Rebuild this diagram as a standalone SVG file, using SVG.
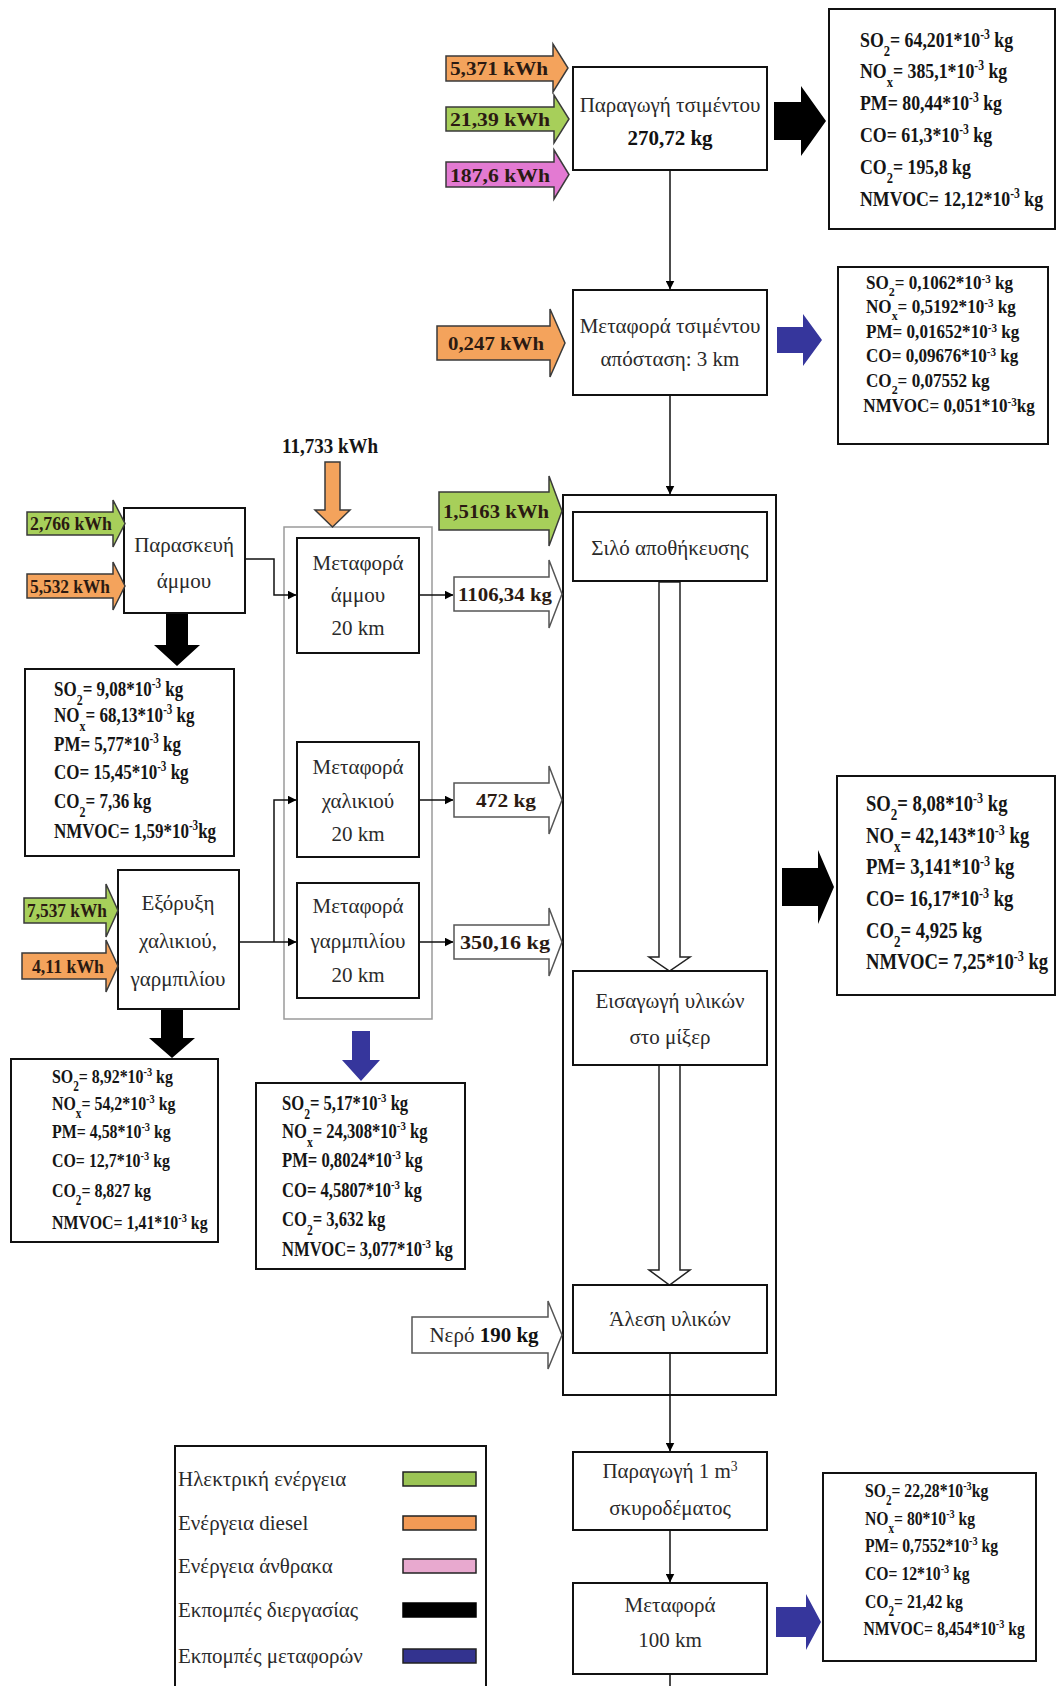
<svg xmlns="http://www.w3.org/2000/svg" width="1057" height="1686" viewBox="0 0 1057 1686">
<defs>
<marker id="ah" markerWidth="9" markerHeight="9" refX="8.5" refY="4.5" orient="auto" markerUnits="userSpaceOnUse"><path d="M0,0 L9,4.5 L0,9 Z" fill="#000"/></marker>
<style>
.bx{fill:#fff;stroke:#111;stroke-width:2}
.gbx{fill:none;stroke:#9a9a9a;stroke-width:1.5}
.lb{font-family:"Liberation Serif",serif;font-size:21px;fill:#2a2a2a;text-anchor:middle}
.b{font-weight:bold;fill:#111}
.em{font-family:"Liberation Serif",serif;font-weight:bold;fill:#151515}
.al{font-family:"Liberation Serif",serif;font-weight:bold;font-size:19px;fill:#2b1a12;text-anchor:middle}
.sb{font-size:70%;baseline-shift:sub}
.sp{font-size:65%;baseline-shift:super}
.el{fill:#a7cf5a;stroke:#3a3a3a;stroke-width:1.5}
.di{fill:#f4a35c;stroke:#3a3a3a;stroke-width:1.5}
.ca{fill:#e37ad2;stroke:#3a3a3a;stroke-width:1.5}
.pe{fill:#000}
.tr{fill:#36369c}
.op{fill:#fff;stroke:#555;stroke-width:1.5}
.hol{fill:#fff;stroke:#222;stroke-width:1.5}
.cn{fill:none;stroke:#111;stroke-width:1.5}
.lg{font-family:"Liberation Serif",serif;font-size:21px;fill:#2a2a2a}
</style>
</defs>
<rect x="0" y="0" width="1057" height="1686" fill="#fff"/>

<!-- group frames -->
<rect id="silo-group" class="bx" x="563" y="495" width="213" height="900"/>
<rect id="transport-group" class="gbx" x="284" y="527" width="148" height="492"/>

<!-- connectors -->
<g id="connectors">
<path class="cn" d="M670,170 V289" marker-end="url(#ah)"/>
<path class="cn" d="M670,395 V494" marker-end="url(#ah)"/>
<path class="cn" d="M245,559 H274 V595 H296" marker-end="url(#ah)"/>
<path class="cn" d="M419,595 H453" marker-end="url(#ah)"/>
<path class="cn" d="M239,942 H296" marker-end="url(#ah)"/>
<path class="cn" d="M274,942 V800 H296" marker-end="url(#ah)"/>
<path class="cn" d="M419,800 H453" marker-end="url(#ah)"/>
<path class="cn" d="M419,942 H453" marker-end="url(#ah)"/>
<path class="cn" d="M670,1353 V1451" marker-end="url(#ah)"/>
<path class="cn" d="M670,1530 V1582" marker-end="url(#ah)"/>
<path class="cn" d="M670,1674 V1686"/>
<path class="hol" d="M659,582 V957 H649 L669.5,971 L690,957 H680 V582 Z"/>
<path class="hol" d="M659,1065 V1270 H649 L669.5,1285 L690,1270 H680 V1065 Z"/>
</g>

<!-- process nodes -->
<g id="cement-production">
<rect class="bx" x="573" y="67" width="194" height="103"/>
<text class="lb" x="670" y="112">Παραγωγή τσιμέντου</text>
<text class="lb b" x="670" y="145">270,72 kg</text>
</g>
<g id="cement-transport">
<rect class="bx" x="573" y="290" width="194" height="105"/>
<text class="lb" x="670" y="333">Μεταφορά τσιμέντου</text>
<text class="lb" x="670" y="366">απόσταση: 3 km</text>
</g>
<g id="silo">
<rect class="bx" x="573" y="512" width="194" height="69"/>
<text class="lb" x="670" y="555">Σιλό αποθήκευσης</text>
</g>
<g id="mixer-input">
<rect class="bx" x="573" y="971" width="194" height="94"/>
<text class="lb" x="670" y="1008">Εισαγωγή υλικών</text>
<text class="lb" x="670" y="1044">στο μίξερ</text>
</g>
<g id="grinding">
<rect class="bx" x="573" y="1285" width="194" height="68"/>
<text class="lb" x="670" y="1326">Άλεση υλικών</text>
</g>
<g id="concrete-production">
<rect class="bx" x="573" y="1452" width="194" height="78"/>
<text class="lb" x="670" y="1478">Παραγωγή 1 m<tspan class="sp">3</tspan></text>
<text class="lb" x="670" y="1515">σκυροδέματος</text>
</g>
<g id="transport-100">
<rect class="bx" x="573" y="1583" width="194" height="91"/>
<text class="lb" x="670" y="1612">Μεταφορά</text>
<text class="lb" x="670" y="1647">100 km</text>
</g>
<g id="sand-prep">
<rect class="bx" x="124" y="508" width="121" height="105"/>
<text class="lb" x="184" y="552">Παρασκευή</text>
<text class="lb" x="184" y="588">άμμου</text>
</g>
<g id="sand-transport">
<rect class="bx" x="297" y="538" width="122" height="115"/>
<text class="lb" x="358" y="570">Μεταφορά</text>
<text class="lb" x="358" y="602">άμμου</text>
<text class="lb" x="358" y="635">20 km</text>
</g>
<g id="gravel-transport">
<rect class="bx" x="297" y="742" width="122" height="115"/>
<text class="lb" x="358" y="774">Μεταφορά</text>
<text class="lb" x="358" y="808">χαλικιού</text>
<text class="lb" x="358" y="841">20 km</text>
</g>
<g id="grit-transport">
<rect class="bx" x="297" y="883" width="122" height="115"/>
<text class="lb" x="358" y="913">Μεταφορά</text>
<text class="lb" x="358" y="948">γαρμπιλίου</text>
<text class="lb" x="358" y="982">20 km</text>
</g>
<g id="mining">
<rect class="bx" x="118" y="870" width="121" height="139"/>
<text class="lb" x="178" y="910">Εξόρυξη</text>
<text class="lb" x="178" y="948">χαλικιού,</text>
<text class="lb" x="178" y="986">γαρμπιλίου</text>
</g>

<!-- energy inputs -->
<g id="in-cement-diesel"><path class="di" d="M446,56 H553 V44 L568,68 L553,92 V81 H446 Z"/><text class="al" x="499" y="75" textLength="98" lengthAdjust="spacingAndGlyphs">5,371 kWh</text></g>
<g id="in-cement-elec"><path class="el" d="M446,107 H554 V95 L569,119 L554,143 V131 H446 Z"/><text class="al" x="500" y="126" textLength="100" lengthAdjust="spacingAndGlyphs">21,39 kWh</text></g>
<g id="in-cement-coal"><path class="ca" d="M446,162 H554 V150 L569,174.5 L554,199 V187 H446 Z"/><text class="al" x="500" y="182" textLength="100" lengthAdjust="spacingAndGlyphs">187,6 kWh</text></g>
<g id="in-transport-diesel"><path class="di" d="M437,326 H550 V309 L565,343 L550,377 V360 H437 Z"/><text class="al" x="496" y="350" textLength="96" lengthAdjust="spacingAndGlyphs">0,247 kWh</text></g>
<g id="in-silo-elec"><path class="el" d="M439,492 H549 V476 L562,511 L549,546 V530 H439 Z"/><text class="al" x="496" y="518" textLength="106" lengthAdjust="spacingAndGlyphs">1,5163 kWh</text></g>
<g id="in-sand-elec"><path class="el" d="M27,512 H113 V500 L125,523.5 L113,547 V535 H27 Z"/><text class="al" x="71" y="530" textLength="82" lengthAdjust="spacingAndGlyphs">2,766 kWh</text></g>
<g id="in-sand-diesel"><path class="di" d="M27,574 H113 V562 L125,586 L113,610 V598 H27 Z"/><text class="al" x="70" y="593" textLength="80" lengthAdjust="spacingAndGlyphs">5,532 kWh</text></g>
<g id="in-mining-elec"><path class="el" d="M24,898 H106 V884 L118,910.5 L106,937 V923 H24 Z"/><text class="al" x="67" y="917" textLength="80" lengthAdjust="spacingAndGlyphs">7,537 kWh</text></g>
<g id="in-mining-diesel"><path class="di" d="M22,953 H106 V940 L118,966 L106,992 V979 H22 Z"/><text class="al" x="68" y="973" textLength="72" lengthAdjust="spacingAndGlyphs">4,11 kWh</text></g>
<g id="in-transport-group-diesel"><path class="di" d="M325,462 H340 V510 H350 L332.5,527 L315,510 H325 Z"/><text class="em" x="330" y="453" font-size="21" text-anchor="middle" textLength="96" lengthAdjust="spacingAndGlyphs">11,733 kWh</text></g>

<!-- material flows -->
<g id="flow-sand"><path class="op" d="M454,577 H549 V560 L562,594 L549,628 V611 H454 Z"/><text class="al" x="505" y="601" fill="#111" textLength="94" lengthAdjust="spacingAndGlyphs">1106,34 kg</text></g>
<g id="flow-gravel"><path class="op" d="M454,783 H549 V766 L562,800 L549,834 V817 H454 Z"/><text class="al" x="506" y="807" textLength="60" lengthAdjust="spacingAndGlyphs">472 kg</text></g>
<g id="flow-grit"><path class="op" d="M454,925 H549 V908 L562,942 L549,976 V959 H454 Z"/><text class="al" x="505" y="949" textLength="90" lengthAdjust="spacingAndGlyphs">350,16 kg</text></g>
<g id="flow-water"><path class="op" d="M412,1317 H548 V1301 L562,1335 L548,1369 V1353 H412 Z"/><text class="lb" x="484" y="1342">Νερό <tspan class="b">190 kg</tspan></text></g>

<!-- emission arrows -->
<g id="em-arrows">
<path class="pe" d="M774,102 H801 V86 L826,121 L801,156 V140 H774 Z"/>
<path class="pe" d="M782,868 H818 V850 L834,887 L818,924 V906 H782 Z"/>
<path class="pe" d="M166,614 H188 V645 H200 L177,666 L154,645 H166 Z"/>
<path class="pe" d="M161,1010 H183 V1038 H195 L172,1058 L149,1038 H161 Z"/>
<path class="tr" d="M777,327 H803 V314 L822,340 L803,366 V353 H777 Z"/>
<path class="tr" d="M352,1031 H370 V1060 H380 L361,1081 L342,1060 H352 Z"/>
<path class="tr" d="M776,1607 H806 V1594 L821,1622 L806,1650 V1637 H776 Z"/>
</g>

<!-- emission boxes -->
<g id="em-cement">
<rect class="bx" x="829" y="9" width="226" height="220"/>
<g transform="translate(860,0) scale(0.81,1)" class="em" font-size="22">
<text x="0" y="47">SO<tspan class="sb">2</tspan>= 64,201*10<tspan class="sp">-3</tspan> kg</text>
<text x="0" y="78">NO<tspan class="sb">x</tspan>= 385,1*10<tspan class="sp">-3</tspan> kg</text>
<text x="0" y="110">PM= 80,44*10<tspan class="sp">-3</tspan> kg</text>
<text x="0" y="142">CO= 61,3*10<tspan class="sp">-3</tspan> kg</text>
<text x="0" y="174">CO<tspan class="sb">2</tspan>= 195,8 kg</text>
<text x="0" y="206">NMVOC= 12,12*10<tspan class="sp">-3</tspan> kg</text>
</g>
</g>
<g id="em-cement-transport">
<rect class="bx" x="838" y="267" width="210" height="177"/>
<g transform="translate(866,0) scale(0.9,1)" class="em" font-size="19">
<text x="0" y="289">SO<tspan class="sb">2</tspan>= 0,1062*10<tspan class="sp">-3</tspan> kg</text>
<text x="0" y="313">NO<tspan class="sb">x</tspan>= 0,5192*10<tspan class="sp">-3</tspan> kg</text>
<text x="0" y="338">PM= 0,01652*10<tspan class="sp">-3</tspan> kg</text>
<text x="0" y="362">CO= 0,09676*10<tspan class="sp">-3</tspan> kg</text>
<text x="0" y="387">CO<tspan class="sb">2</tspan>= 0,07552 kg</text>
<text x="-3" y="412">NMVOC= 0,051*10<tspan class="sp">-3</tspan>kg</text>
</g>
</g>
<g id="em-sand">
<rect class="bx" x="25" y="669" width="209" height="187"/>
<g transform="translate(54,0) scale(0.81,1)" class="em" font-size="21">
<text x="0" y="696">SO<tspan class="sb">2</tspan>= 9,08*10<tspan class="sp">-3</tspan> kg</text>
<text x="0" y="722">NO<tspan class="sb">x</tspan>= 68,13*10<tspan class="sp">-3</tspan> kg</text>
<text x="0" y="751">PM= 5,77*10<tspan class="sp">-3</tspan> kg</text>
<text x="0" y="779">CO= 15,45*10<tspan class="sp">-3</tspan> kg</text>
<text x="0" y="808">CO<tspan class="sb">2</tspan>= 7,36 kg</text>
<text x="0" y="838">NMVOC= 1,59*10<tspan class="sp">-3</tspan>kg</text>
</g>
</g>
<g id="em-silo">
<rect class="bx" x="837" y="776" width="218" height="219"/>
<g transform="translate(866,0) scale(0.81,1)" class="em" font-size="23">
<text x="0" y="811">SO<tspan class="sb">2</tspan>= 8,08*10<tspan class="sp">-3</tspan> kg</text>
<text x="0" y="843">NO<tspan class="sb">x</tspan>= 42,143*10<tspan class="sp">-3</tspan> kg</text>
<text x="0" y="874">PM= 3,141*10<tspan class="sp">-3</tspan> kg</text>
<text x="0" y="906">CO= 16,17*10<tspan class="sp">-3</tspan> kg</text>
<text x="0" y="938">CO<tspan class="sb">2</tspan>= 4,925 kg</text>
<text x="0" y="969">NMVOC= 7,25*10<tspan class="sp">-3</tspan> kg</text>
</g>
</g>
<g id="em-mining">
<rect class="bx" x="11" y="1059" width="207" height="183"/>
<g transform="translate(52,0) scale(0.816,1)" class="em" font-size="19.5">
<text x="0" y="1083">SO<tspan class="sb">2</tspan>= 8,92*10<tspan class="sp">-3</tspan> kg</text>
<text x="0" y="1110">NO<tspan class="sb">x</tspan>= 54,2*10<tspan class="sp">-3</tspan> kg</text>
<text x="0" y="1138">PM= 4,58*10<tspan class="sp">-3</tspan> kg</text>
<text x="0" y="1167">CO= 12,7*10<tspan class="sp">-3</tspan> kg</text>
<text x="0" y="1197">CO<tspan class="sb">2</tspan>= 8,827 kg</text>
<text x="0" y="1229">NMVOC= 1,41*10<tspan class="sp">-3</tspan> kg</text>
</g>
</g>
<g id="em-transport">
<rect class="bx" x="256" y="1083" width="209" height="186"/>
<g transform="translate(282,0) scale(0.81,1)" class="em" font-size="20.5">
<text x="0" y="1110">SO<tspan class="sb">2</tspan>= 5,17*10<tspan class="sp">-3</tspan> kg</text>
<text x="0" y="1138">NO<tspan class="sb">x</tspan>= 24,308*10<tspan class="sp">-3</tspan> kg</text>
<text x="0" y="1167">PM= 0,8024*10<tspan class="sp">-3</tspan> kg</text>
<text x="0" y="1197">CO= 4,5807*10<tspan class="sp">-3</tspan> kg</text>
<text x="0" y="1226">CO<tspan class="sb">2</tspan>= 3,632 kg</text>
<text x="0" y="1256">NMVOC= 3,077*10<tspan class="sp">-3</tspan> kg</text>
</g>
</g>
<g id="em-final-transport">
<rect class="bx" x="823" y="1473" width="213" height="188"/>
<g transform="translate(865,0) scale(0.806,1)" class="em" font-size="19.5">
<text x="0" y="1497">SO<tspan class="sb">2</tspan>= 22,28*10<tspan class="sp">-3</tspan>kg</text>
<text x="0" y="1525">NO<tspan class="sb">x</tspan>= 80*10<tspan class="sp">-3</tspan> kg</text>
<text x="0" y="1552">PM= 0,7552*10<tspan class="sp">-3</tspan> kg</text>
<text x="0" y="1580">CO= 12*10<tspan class="sp">-3</tspan> kg</text>
<text x="0" y="1608">CO<tspan class="sb">2</tspan>= 21,42 kg</text>
<text x="-2" y="1635">NMVOC= 8,454*10<tspan class="sp">-3</tspan> kg</text>
</g>
</g>

<!-- legend -->
<g id="legend">
<rect class="bx" x="175" y="1446" width="311" height="260"/>
<text class="lg" x="178" y="1486">Ηλεκτρική ενέργεια</text>
<text class="lg" x="178" y="1530">Ενέργεια diesel</text>
<text class="lg" x="178" y="1573">Ενέργεια άνθρακα</text>
<text class="lg" x="178" y="1617">Εκπομπές διεργασίας</text>
<text class="lg" x="178" y="1663">Εκπομπές μεταφορών</text>
<rect x="403" y="1472" width="73" height="14" fill="#9bc455" stroke="#222" stroke-width="1.5"/>
<rect x="403" y="1516" width="73" height="14" fill="#f39a55" stroke="#222" stroke-width="1.5"/>
<rect x="403" y="1559" width="73" height="14" fill="#e8a9cf" stroke="#222" stroke-width="1.5"/>
<rect x="403" y="1603" width="73" height="14" fill="#000" stroke="#000" stroke-width="1.5"/>
<rect x="403" y="1649" width="73" height="14" fill="#33338f" stroke="#222" stroke-width="1.5"/>
</g>
</svg>
